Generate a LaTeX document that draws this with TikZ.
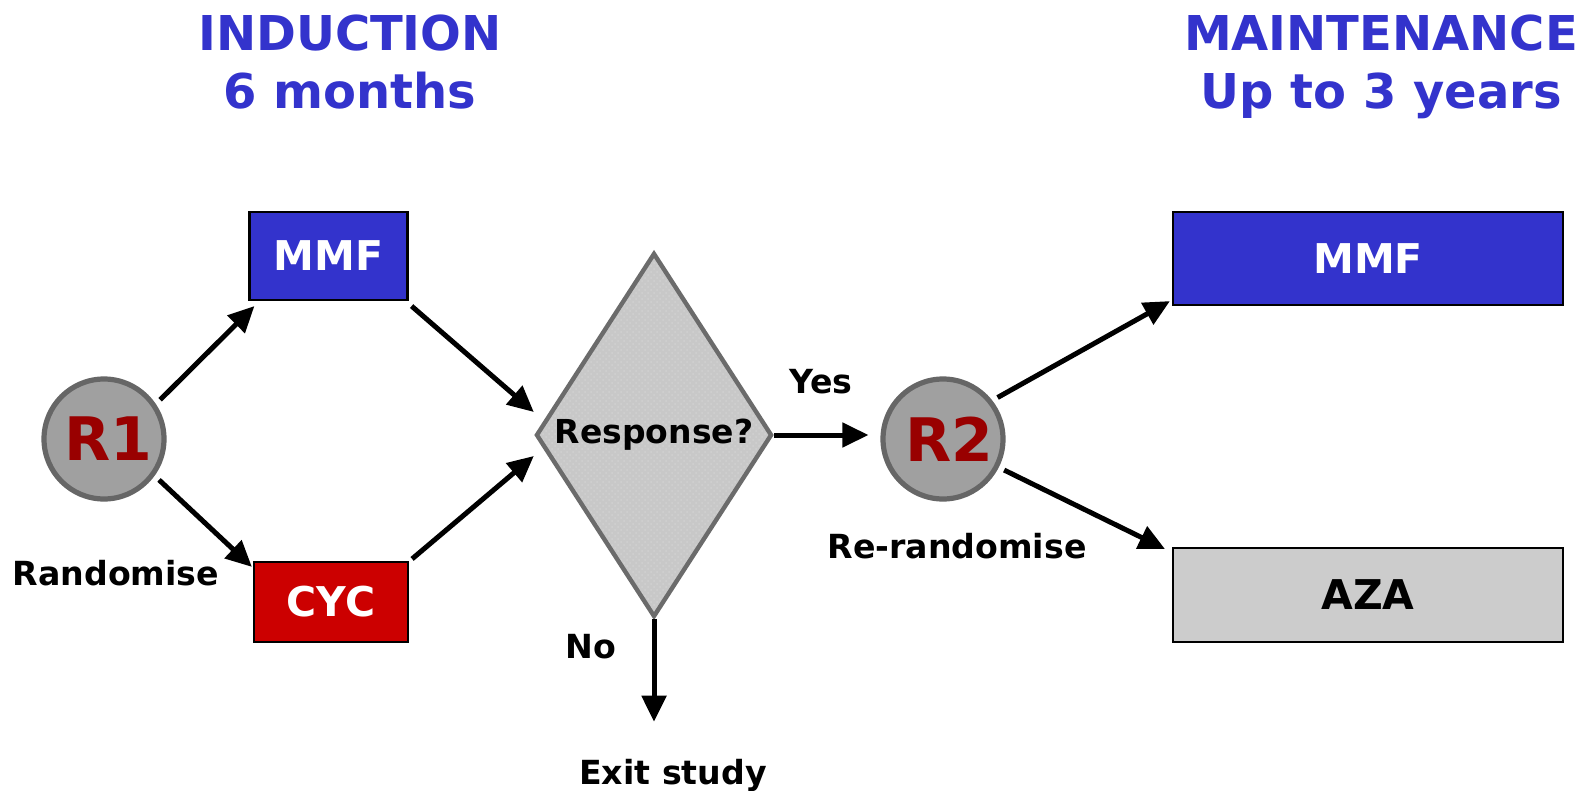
\documentclass[tikz,border=0pt]{standalone}
\usepackage{fontspec}
\setmainfont{DejaVu Sans}
\usetikzlibrary{positioning,arrows.meta,calc,shapes.geometric,patterns}
\definecolor{ink}{HTML}{000000}
\definecolor{titleblue}{HTML}{3333CC}
\definecolor{mmfblue}{HTML}{3333CC}
\definecolor{cycred}{HTML}{CC0000}
\definecolor{azagray}{HTML}{CCCCCC}
\definecolor{rdisc}{HTML}{A0A0A0}
\definecolor{rrim}{HTML}{666666}
\definecolor{rtext}{HTML}{990000}
\definecolor{dmdfill}{HTML}{C8C8C8}
\definecolor{dmdrim}{HTML}{6B6B6B}
\tikzset{
  flow/.style={-{Triangle[length=13pt,width=12pt]}, line width=2.5pt, color=ink},
  title/.style={font=\bfseries\fontsize{24}{24}\selectfont, text=titleblue, anchor=base, inner sep=0pt},
  drug/.style={draw=ink, fill=#1, line width=1.1pt, inner sep=0pt,
    font=\bfseries\fontsize{20.5}{20.5}\selectfont, text=white},
  drug/.default=mmfblue,
  rnd/.style={circle, draw=rrim, fill=rdisc, line width=2.6pt, minimum size=60pt, inner sep=0pt,
    font=\bfseries\fontsize{30}{30}\selectfont, text=rtext},
  dec/.style={diamond, draw=dmdrim, preaction={fill=dmdfill}, pattern=crosshatch dots,
    pattern color=black!18, line width=2.2pt, inner sep=0pt, aspect=0.65,
    minimum width=118pt, minimum height=182pt, font=\bfseries\fontsize{16.5}{16.5}\selectfont},
  lbl/.style={font=\bfseries\fontsize{16.6}{16.6}\selectfont, text=ink},
}

\begin{document}
\begin{tikzpicture}[x=0.5pt,y=-0.5pt]
  \useasboundingbox (0,0) rectangle (1583,791);
  % phase headings
  \node[title] (ind) at (350,50.5) {INDUCTION};
  \node[title] (indtime) at (350,109) {6 months};
  \node[title] (mnt) at (1381,50.5) {MAINTENANCE};
  \node[title] (mnttime) at (1381,109) {Up to 3 years};

  % induction arm
  \node[rnd] (r1) at (104,439) {\hspace*{4.5pt}R1};
  \node[drug, minimum width=79pt, minimum height=44pt] (mmfa) at (328.5,256) {MMF};
  \node[drug=cycred, minimum width=77pt, minimum height=40pt] (cyc) at (331,602) {CYC};
  \node[lbl] (rand) at (116,573) {Randomise};
  \node[dec] (resp) at (654,435) {Response?};

  % maintenance arm
  \node[rnd] (r2) at (943,439) {\hspace*{6pt}R2};
  \node[drug, minimum width=195pt, minimum height=46.5pt] (mmfb) at (1368,258.5) {MMF};
  \node[drug=azagray, text=ink, minimum width=195pt, minimum height=47pt] (aza) at (1368,595) {AZA};
  \node[lbl] (rerand) at (957,546) {Re-randomise};
  \node[lbl] (yes) at (821,382) {Yes};
  \node[lbl] (no) at (591,647) {No};
  \node[lbl] (exit) at (673,775) {Exit study};

  \draw[flow, shorten <=3pt] (r1.34) -- ($(mmfa.south west)+(6,5)$);
  \draw[flow, shorten <=3pt] (r1.-36) -- ($(cyc.north west)+(-1,6)$);
  \draw[flow] ($(mmfa.south east)+(3,5)$) -- ($(resp.west)+(0,-23)$);
  \draw[flow] ($(cyc.north east)+(3,-2)$) -- ($(resp.west)+(0,21)$);
  \draw[flow, shorten >=6pt] (resp.east) -- (resp.east -| r2.west);
  \draw[flow, shorten >=15pt] (resp.south) -- (resp.south |- exit.north);
  \draw[flow, shorten <=3pt] (r2.38) -- ($(mmfb.south west)+(-2,-5)$);
  \draw[flow, shorten <=3pt] (r2.-27) -- ($(aza.north west)+(-7,2)$);
\end{tikzpicture}
\end{document}
